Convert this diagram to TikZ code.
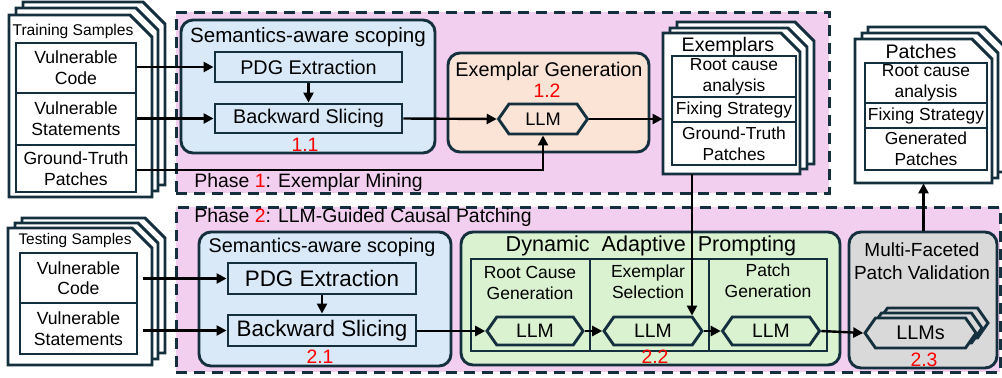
\documentclass[tikz,border=0pt]{standalone}
\usepackage{fontspec}
\setmainfont{Liberation Sans}
\usetikzlibrary{shapes.symbols,arrows.meta,calc}
\definecolor{navy}{RGB}{20,48,62}
\definecolor{pinkbg}{RGB}{242,207,238}
\definecolor{bluebg}{RGB}{218,233,247}
\definecolor{peachbg}{RGB}{251,227,214}
\definecolor{greenbg}{RGB}{218,242,208}
\definecolor{graybg}{RGB}{217,217,217}
\newcommand\fsz[2]{\fontsize{#1}{#2}\selectfont}
\newcommand\sheetdraw[5]{\draw[sheet] (#1,#2) -- ({#3-#5},#2) -- (#3,{#2+#5}) -- (#3,#4) -- (#1,#4) -- cycle;}
\newcommand\bx[7]{\node[#6, minimum width={(#4-#2)*0.5pt}, minimum height={(#5-#3)*0.5pt}] (#1) at ({(#2+#4)/2},{(#3+#5)/2}) {#7};}
\begin{document}
\begin{tikzpicture}[x=0.5pt,y=-0.5pt,
  sheet/.style={draw=navy, line width=1.45pt, fill=white, line join=miter},
  ibox/.style={draw=navy, line width=1.45pt, fill=white, inner sep=0pt, align=center},
  rbox/.style={draw=navy, line width=1.45pt, rounded corners=6pt, inner sep=0pt},
  phasebox/.style={draw=navy, line width=1.5pt, dash pattern=on 5.5pt off 3.5pt, fill=pinkbg, inner sep=0pt},
  hexa/.style={signal, signal to=west and east, signal pointer angle=110, draw=navy, line width=1.45pt, inner sep=0pt},
  arr/.style={-{Triangle[length=5pt,width=5pt]}, line width=1.2pt, black},
  num/.style={text=red, font=\fsz{9.7pt}{10pt}, inner sep=0pt},
  ttl/.style={inner sep=0pt, align=center},
  ghost/.style={inner sep=0pt, draw=none}
]
\useasboundingbox (0,0) rectangle (1002,377);

% phase backgrounds
\bx{ph1}{176}{12}{829}{193}{phasebox}{}
\bx{ph2}{176}{207}{1000}{372}{phasebox}{}
\node[ttl, anchor=west, font=\fsz{9.7pt}{11pt}] (ph1t) at (194,182) {Phase {\color{red}1}: Exemplar Mining};
\node[ttl, anchor=west, font=\fsz{9.7pt}{11pt}] (ph2t) at (194,217) {Phase {\color{red}2}: LLM-Guided Causal Patching};

% training samples stack
\sheetdraw{23}{2}{165}{185}{22}
\sheetdraw{16}{8}{158}{191}{22}
\sheetdraw{9}{15}{152}{197}{22}
\node[ttl, font=\fsz{7.8pt}{9pt}] (trt) at (73,31) {Training Samples};
\bx{vc1}{16}{43}{136}{93}{ibox, font=\fsz{8.8pt}{10.3pt}}{Vulnerable\\Code}
\bx{vs1}{16}{93}{136}{145}{ibox, font=\fsz{8.8pt}{10.3pt}}{Vulnerable\\Statements}
\bx{gt1}{16}{145}{136}{192}{ibox, font=\fsz{8.8pt}{10.3pt}}{Ground-Truth\\Patches}

% semantics-aware scoping 1
\bx{sem1}{181}{20}{435}{153}{rbox, fill=bluebg}{}
\node[ttl, font=\fsz{10.3pt}{12pt}] (sem1t) at (308,37) {Semantics-aware scoping};
\bx{pdg1}{215}{52}{402}{82}{ibox, fill=bluebg, font=\fsz{9.9pt}{11pt}}{PDG Extraction}
\bx{bs1}{215}{104}{402}{133}{ibox, fill=bluebg, font=\fsz{9.9pt}{11pt}}{Backward Slicing}
\node[num] (n11) at (305,145) {1.1};

% exemplar generation
\bx{exg}{448}{53}{649}{152}{rbox, fill=peachbg}{}
\node[ttl, font=\fsz{9.9pt}{11pt}] (exgt) at (549,71) {Exemplar Generation};
\node[num] (n12) at (547,91) {1.2};
\node[hexa, fill=peachbg, minimum width=44.5pt, minimum height=15pt, font=\fsz{9.1pt}{10pt}] (llm1) at (543,119) {LLM};

% exemplars stack
\sheetdraw{677}{22}{814}{164}{19}
\sheetdraw{670}{28}{807}{169}{19}
\sheetdraw{663}{33}{800}{174}{19}
\bx{exf}{663}{33}{800}{174}{ghost}{}
\node[ttl, font=\fsz{9.8pt}{11pt}] (ext) at (728,46) {Exemplars};
\bx{exrc}{672}{56}{796}{97}{ibox, font=\fsz{8.7pt}{10.6pt}}{Root cause\\analysis}
\bx{exfs}{672}{97}{796}{122}{ibox, font=\fsz{8.7pt}{10.6pt}}{Fixing Strategy}
\bx{exgp}{672}{122}{796}{165}{ibox, font=\fsz{8.7pt}{10.6pt}}{Ground-Truth\\Patches}

% patches stack
\sheetdraw{868}{27}{1005}{172}{20}
\sheetdraw{862}{33}{998}{178}{20}
\sheetdraw{855}{39}{992}{183}{20}
\bx{pf}{855}{39}{992}{183}{ghost}{}
\node[ttl, font=\fsz{9.8pt}{11pt}] (pt) at (921,51) {Patches};
\bx{prc}{865}{63}{987}{103}{ibox, font=\fsz{8.7pt}{10.6pt}}{Root cause\\analysis}
\bx{pfs}{865}{103}{987}{128}{ibox, font=\fsz{8.7pt}{10.6pt}}{Fixing Strategy}
\bx{pgp}{865}{128}{987}{170}{ibox, font=\fsz{8.7pt}{10.6pt}}{Generated\\Patches}

% testing samples stack
\sheetdraw{22}{218}{165}{353}{20}
\sheetdraw{15}{223}{158}{359}{20}
\sheetdraw{8}{228}{152}{365}{20}
\node[ttl, font=\fsz{7.7pt}{9pt}] (tst) at (75,241) {Testing Samples};
\bx{vc2}{20}{253}{137}{303}{ibox, font=\fsz{8.8pt}{10.3pt}}{Vulnerable\\Code}
\bx{vs2}{20}{303}{137}{354}{ibox, font=\fsz{8.8pt}{10.3pt}}{Vulnerable\\Statements}

% semantics-aware scoping 2
\bx{sem2}{199}{232}{451}{366}{rbox, fill=bluebg}{}
\node[ttl, font=\fsz{9.9pt}{11pt}] (sem2t) at (322,247) {Semantics-aware scoping};
\bx{pdg2}{228}{263}{416}{294}{ibox, fill=bluebg, font=\fsz{11.2pt}{12pt}}{PDG Extraction}
\bx{bs2}{228}{315}{416}{346}{ibox, fill=bluebg, font=\fsz{11.2pt}{12pt}}{Backward Slicing}
\node[num] (n21) at (320,357) {2.1};

% dynamic adaptive prompting
\bx{dyn}{461}{232}{840}{365}{rbox, fill=greenbg}{}
\node[ttl, font=\fsz{10.8pt}{12pt}] (dynt) at (651,246) {Dynamic\ \ Adaptive\ \ Prompting};
\bx{c1}{471}{259}{590}{351}{ibox, fill=greenbg}{}
\bx{c2}{590}{259}{709}{351}{ibox, fill=greenbg}{}
\bx{c3}{709}{259}{827}{351}{ibox, fill=greenbg}{}
\node[ttl, font=\fsz{8.75pt}{10.5pt}] (c1t) at (530,283) {Root Cause\\Generation};
\node[ttl, font=\fsz{8.75pt}{10.5pt}] (c2t) at (648,282) {Exemplar\\Selection};
\node[ttl, font=\fsz{8.75pt}{10.5pt}] (c3t) at (768,281) {Patch\\Generation};
\node[hexa, fill=greenbg, minimum width=48pt, minimum height=14pt, font=\fsz{9.7pt}{10pt}] (la) at (535,331) {LLM};
\node[hexa, fill=greenbg, minimum width=49pt, minimum height=14pt, font=\fsz{9.7pt}{10pt}] (lb) at (653,331) {LLM};
\node[hexa, fill=greenbg, minimum width=48.5pt, minimum height=14pt, font=\fsz{9.7pt}{10pt}] (lc) at (771,331) {LLM};
\node[num] (n22) at (655,357) {2.2};

% multi-faceted patch validation
\bx{mfv}{849}{232}{997}{368}{rbox, fill=graybg}{}
\node[ttl, font=\fsz{9.5pt}{11.5pt}] (mfvt) at (922,261) {Multi-Faceted\\Patch Validation};
\node[hexa, fill=graybg, minimum width=55.5pt, minimum height=15pt] (llmsb) at (932.5,323) {};
\node[hexa, fill=graybg, minimum width=55.5pt, minimum height=15pt] (llmsm) at (926.5,328) {};
\node[hexa, fill=graybg, minimum width=55.5pt, minimum height=15pt, font=\fsz{9.9pt}{10pt}] (llms) at (920.5,333) {LLMs};
\node[num] (n23) at (924,360) {2.3};

% connectors
\draw[arr] (vc1.east |- pdg1.west) -- (pdg1.west);
\draw[arr] (pdg1.south) -- (bs1.north);
\draw[arr] (vs1.east |- bs1.west) -- (bs1.west);
\draw[arr] (bs1.east) -- (llm1.west);
\draw[arr] (gt1.east |- 0,170) -| (llm1.south);
\draw[arr] (llm1.east) -- (llm1.east -| exf.west);
\coordinate (exdrop) at (692,174);
\draw[arr] (exdrop) -- (exdrop |- lb.north);
\draw[arr] ([xshift=2.5pt]vc2.east |- pdg2.west) -- (pdg2.west);
\draw[arr] (pdg2.south) -- (bs2.north);
\draw[arr] ([xshift=2.5pt]vs2.east |- bs2.west) -- (bs2.west);
\draw[arr] (bs2.east |- la.west) -- (la.west);
\draw[arr] (la.east) -- (lb.west);
\draw[arr] (lb.east) -- (lc.west);
\draw[arr] (lc.east) -- (llms.west);
\draw[arr] (mfv.north -| pf.south) -- (pf.south);
\end{tikzpicture}
\end{document}
